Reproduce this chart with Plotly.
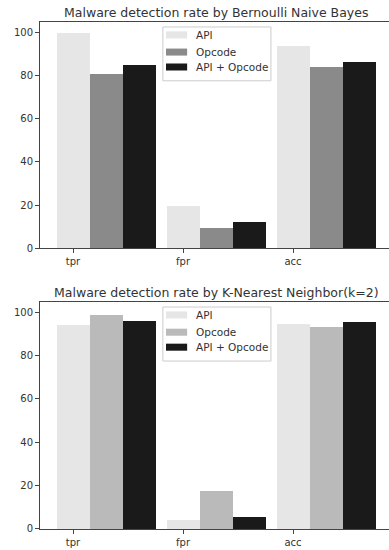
import plotly.graph_objects as go
from plotly.subplots import make_subplots

categories = ["tpr", "fpr", "acc"]
series_names = ["API", "Opcode", "API + Opcode"]

nb_api = [100.0, 19.5, 93.7]
nb_opcode = [80.9, 9.4, 84.3]
nb_both = [85.0, 11.9, 86.6]

knn_api = [94.2, 4.1, 94.7]
knn_opcode = [98.8, 17.5, 93.4]
knn_both = [96.1, 5.6, 95.4]

titles = ["Malware detection rate by Bernoulli Naive Bayes",
          "Malware detection rate by K-Nearest Neighbor(k=2)"]

nb_colors = ["#e6e6e6", "#8a8a8a", "#1a1a1a"]
knn_colors = ["#e6e6e6", "#bababa", "#1a1a1a"]

FONT = "DejaVu Sans"
TXT = "#333333"
BAR_W = 0.3

fig = make_subplots(rows=2, cols=1, vertical_spacing=0.1)

panels = [
    (1, [nb_api, nb_opcode, nb_both], nb_colors),
    (2, [knn_api, knn_opcode, knn_both], knn_colors),
]

pos = list(range(len(categories)))

for row, values, colors in panels:
    for i, (name, vals, col) in enumerate(zip(series_names, values, colors)):
        fig.add_trace(
            go.Bar(
                x=[p + i * BAR_W for p in pos],
                y=vals,
                width=BAR_W,
                name=name,
                marker=dict(color=col, line=dict(width=0)),
                showlegend=False,
                hoverinfo="skip",
            ),
            row=row, col=1,
        )

# figure a little wider than the window: the right spine is cropped like in the reference
fig.update_layout(
    width=392, height=550,
    margin=dict(l=40, r=0, t=22, b=21),
    plot_bgcolor="white", paper_bgcolor="white",
    bargap=0, barmode="overlay",
    font=dict(family=FONT, color=TXT, size=10),
)
fig.update_layout(
    yaxis=dict(domain=[0.554, 1.0]),
    yaxis2=dict(domain=[0.0, 0.4477]),
)

for ax in ["xaxis", "xaxis2"]:
    fig.layout[ax].update(
        range=[-0.3, 2.9], tickmode="array", tickvals=pos, ticktext=categories,
        showline=True, linecolor="#444444", linewidth=1, mirror=True,
        ticks="outside", ticklen=4, tickcolor="#444444", showgrid=False,
        zeroline=False, tickfont=dict(size=10, color=TXT, family=FONT),
    )
fig.layout["yaxis"].update(range=[0, 105])
fig.layout["yaxis2"].update(range=[0, 104.7])
for ax in ["yaxis", "yaxis2"]:
    fig.layout[ax].update(
        tickmode="array", tickvals=[0, 20, 40, 60, 80, 100],
        showline=True, linecolor="#444444", linewidth=1, mirror=True,
        ticks="outside", ticklen=4, tickcolor="#444444", showgrid=False,
        zeroline=False, tickfont=dict(size=10, color=TXT, family=FONT),
    )

# titles and custom matplotlib-style legends (domain fractions of each panel)
entry_y = [0.943, 0.867, 0.801]
for idx, (row, values, colors) in enumerate(panels):
    xr = "x domain" if row == 1 else "x2 domain"
    yr = "y domain" if row == 1 else "y2 domain"
    fig.add_annotation(
        text=titles[idx], xref=xr, yref=yr, x=0.5, y=1.044,
        xanchor="center", yanchor="middle", showarrow=False,
        font=dict(size=12.5, color=TXT, family=FONT),
    )
    fig.add_shape(
        type="rect", xref=xr, yref=yr, x0=0.349, x1=0.656, y0=0.74, y1=0.978,
        line=dict(color="#cccccc", width=1), fillcolor="rgba(255,255,255,0.8)",
        layer="above",
    )
    for name, col, ey in zip(series_names, colors, entry_y):
        fig.add_shape(
            type="rect", xref=xr, yref=yr, x0=0.358, x1=0.418,
            y0=ey - 0.0155, y1=ey + 0.0155,
            line=dict(width=0), fillcolor=col, layer="above",
        )
        fig.add_annotation(
            text=name, xref=xr, yref=yr, x=0.437, y=ey,
            xanchor="left", yanchor="middle", showarrow=False,
            font=dict(size=10.5, color=TXT, family=FONT),
        )

fig.write_html(
    "out.html",
    config={"displayModeBar": False, "staticPlot": True},
    post_script="document.body.style.margin='0';document.body.style.overflow='hidden';",
)
